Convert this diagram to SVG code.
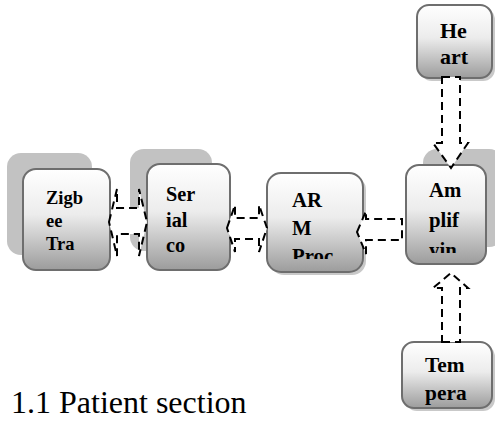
<svg xmlns="http://www.w3.org/2000/svg" width="495" height="421" viewBox="0 0 495 421">
<defs>
<linearGradient id="g" x1="0" y1="0" x2="0" y2="1">
<stop offset="0" stop-color="#ffffff"/>
<stop offset="0.45" stop-color="#ececec"/>
<stop offset="1" stop-color="#9c9c9c"/>
</linearGradient>
<clipPath id="cZ"><rect x="23" y="169" width="87" height="88"/></clipPath>
<clipPath id="cS"><rect x="147" y="164" width="83" height="93"/></clipPath>
<clipPath id="cA"><rect x="267" y="173" width="96" height="86"/></clipPath>
<clipPath id="cM"><rect x="406" y="165" width="80" height="88"/></clipPath>
<clipPath id="cH"><rect x="417" y="5" width="75" height="60"/></clipPath>
<clipPath id="cT"><rect x="402" y="342" width="90" height="64"/></clipPath>
</defs>
<style>
.bg{fill:#c2c2c2}
.sh{fill:#c9c9c9}
.box{fill:url(#g);stroke:#6e6e6e;stroke-width:2}
.t{font-family:"Liberation Serif","Times New Roman",serif;font-weight:bold;fill:#000}
.c{fill:#fff;stroke:#000;stroke-width:2;stroke-dasharray:8 5}
.cap{font-family:"Liberation Serif","Times New Roman",serif;font-size:32px;fill:#000}
</style>
<g id="zigbee">
<rect class="bg" x="7" y="153" width="85" height="102" rx="14"/>
<rect class="box" x="23" y="169" width="87" height="101" rx="13"/>
<g clip-path="url(#cZ)"><text class="t" font-size="18.5"><tspan x="46" y="204">Zigb</tspan><tspan x="46" y="227">ee</tspan><tspan x="46" y="250">Tra</tspan></text></g>
</g>
<g id="serial">
<rect class="bg" x="130" y="149" width="82" height="102" rx="14"/>
<rect class="box" x="147" y="164" width="83" height="106" rx="13"/>
<g clip-path="url(#cS)"><text class="t" font-size="20.3"><tspan x="166" y="201">Ser</tspan><tspan x="166" y="227">ial</tspan><tspan x="166" y="252">co</tspan></text></g>
</g>
<g id="arm">
<rect class="sh" x="270" y="176" width="96" height="99" rx="14"/>
<rect class="box" x="267" y="173" width="96" height="99" rx="14"/>
<g clip-path="url(#cA)"><text class="t" font-size="20.8"><tspan x="292" y="207">AR</tspan><tspan x="292" y="235">M</tspan><tspan x="292" y="263">Proc</tspan></text></g>
</g>
<g id="amplifying">
<rect class="bg" x="423" y="149" width="80" height="98" rx="14"/>
<rect class="box" x="406" y="165" width="80" height="99" rx="13"/>
<g clip-path="url(#cM)"><text class="t" font-size="20.8"><tspan x="429" y="197">Am</tspan><tspan x="429" y="227">plif</tspan><tspan x="429" y="257">yin</tspan></text></g>
</g>
<g id="heart">
<rect class="sh" x="420" y="8" width="75" height="73" rx="12"/>
<rect class="box" x="417" y="5" width="75" height="73" rx="12"/>
<g clip-path="url(#cH)"><text class="t" font-size="22"><tspan x="440" y="38">He</tspan><tspan x="440" y="64">art</tspan></text></g>
</g>
<g id="temperature">
<rect class="sh" x="405" y="345" width="90" height="66" rx="12"/>
<rect class="box" x="402" y="342" width="90" height="66" rx="12"/>
<g clip-path="url(#cT)"><text class="t" font-size="21.4"><tspan x="425" y="372">Tem</tspan><tspan x="425" y="400">pera</tspan></text></g>
</g>
<g id="connectors">
<polygon class="c" points="109,222 117,189 117,208 139,208 139,189 147,222 139,256 139,234 117,234 117,256"/>
<polygon class="c" points="227,228 235,205 235,218 259,218 259,205 267,228 259,252 259,239 235,239 235,252"/>
<polygon class="c" points="357,232 366,211 366,219 402,219 402,240 366,240 366,254"/>
<polygon class="c" points="442,77 460,77 460,143 468,143 451,168 433,143 442,143"/>
<polygon class="c" points="442,342 460,342 460,288 468,288 451,273 433,288 442,288"/>
</g>
<text class="cap" x="11" y="413">1.1 Patient section</text>
</svg>
